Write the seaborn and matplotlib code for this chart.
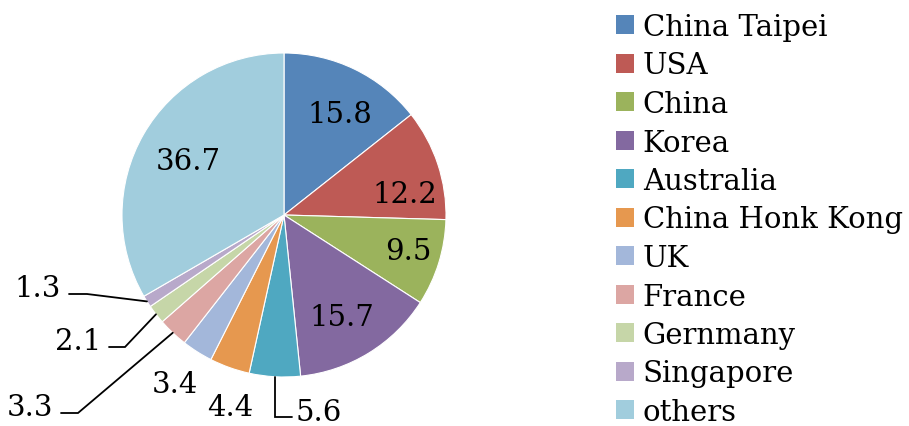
import numpy as np
import matplotlib
matplotlib.use("Agg")
import matplotlib.pyplot as plt
import seaborn as sns

# -------- data --------
countries = ["China Taipei", "USA", "China", "Korea", "Australia", "China Honk Kong",
             "UK", "France", "Gernmany", "Singapore", "others"]
shares = [15.8, 12.2, 9.5, 15.7, 5.6, 4.4, 3.4, 3.3, 2.1, 1.3, 36.7]
label_text = ["15.8", "12.2", "9.5", "15.7", "5.6", "4.4", "3.4", "3.3", "2.1", "1.3", "36.7"]

colors = ["#5585B9", "#BE5A55", "#9BB35C", "#8369A0", "#4FA8C1", "#E6984F",
          "#A3B7DA", "#DCA6A3", "#C6D6A8", "#B8A9CA", "#A1CDDD"]

sns.set_style("white")
plt.rcParams["font.family"] = ["DejaVu Serif"]
plt.rcParams["text.color"] = "black"
FS = 21

fig = plt.figure(figsize=(9.09, 4.27), dpi=100)
# pie radius = 162 px, centre at (284, 216) px
R = 162.0
ax = fig.add_axes([0, 0, 568 / 909, 1])
wedges, _ = ax.pie(shares, colors=sns.color_palette(colors), startangle=90, counterclock=False,
                   wedgeprops=dict(edgecolor="white", linewidth=0.8))
ax.set_aspect("equal", adjustable="box")
ax.set_xlim(-284 / R, 284 / R)
ax.set_ylim(-211 / R, 216 / R)
ax.axis("off")

def px(x, y):
    # pixel position -> pie data coords
    return (x - 284) / R, (216 - y) / R

def edge_point(w):
    a = np.deg2rad((w.theta1 + w.theta2) / 2)
    return np.cos(a), np.sin(a)

# labels placed inside / around the pie (pixel centres)
centre_pos = {0: (340, 115), 1: (405, 195), 2: (408, 252), 3: (342, 318),
              5: (230, 408), 6: (175, 385), 10: (188, 162)}
for i, (x, y) in centre_pos.items():
    tx, ty = px(x, y)
    ax.text(tx, ty, label_text[i], ha="center", va="center", fontsize=FS, color="black")

# labels with leader lines: (elbow px, end px, text side)
leaders = {4: ((None, 418), (292, 418), "left"),
           7: ((78, 414), (61, 414), "right"),
           8: ((125, 348), (109, 348), "right"),
           9: ((87, 295), (69, 295), "right")}
for i, ((ex, ey), (endx, endy), side) in leaders.items():
    sx, sy = edge_point(wedges[i])
    if ex is None:
        ex = 284 + sx * R
    e1 = px(ex, ey)
    e2 = px(endx, endy)
    ax.plot([sx, e1[0], e2[0]], [sy, e1[1], e2[1]], color="black", lw=1.3,
            solid_joinstyle="miter")
    if side == "left":
        ax.text(e2[0] + 4 / R, e2[1] - 3 / R, label_text[i], ha="left", va="baseline", fontsize=FS)
    else:
        ax.text(e2[0] - 8 / R, e2[1] - 2 / R, label_text[i], ha="right", va="baseline", fontsize=FS)

leg = fig.legend(wedges, countries, loc="upper left", bbox_to_anchor=(616 / 909, 1 - 14 / 427),
                 frameon=False, fontsize=FS, handlelength=0.62, handleheight=0.62,
                 handletextpad=0.3, labelspacing=0.36, borderaxespad=0, borderpad=0)
for h in leg.legend_handles:
    h.set_edgecolor("none")
for t in leg.get_texts():
    t.set_color("black")

fig.savefig("out.png", dpi=100)
